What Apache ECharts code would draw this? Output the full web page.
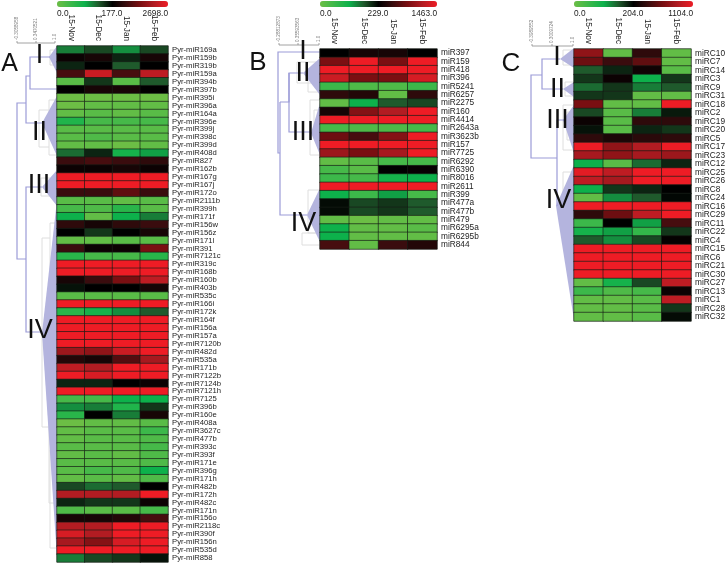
<!DOCTYPE html>
<html>
<head>
<meta charset="utf-8">
<title>miRNA heatmaps</title>
<script src="https://cdn.jsdelivr.net/npm/echarts@6/dist/echarts.min.js"></script>
<style>
    html,body{margin:0;padding:0;background:#fff;}
    #main{width:728px;height:564px;filter:blur(0.35px);}
</style>
</head>
<body>
<div id="main"></div>
<script>
    const months = ['15-Nov','15-Dec','15-Jan','15-Feb'];

    // values are positions on each colour bar: -10 = left end, 0 = black, 10 = right end
    const rowsA = ['Pyr-miR169a','Pyr-miR159b','Pyr-miR319b','Pyr-miR159a','Pyr-miR394b','Pyr-miR397b','Pyr-miR395i','Pyr-miR396a','Pyr-miR164a','Pyr-miR396e','Pyr-miR399j','Pyr-miR398c','Pyr-miR399d','Pyr-miR408d','Pyr-miR827','Pyr-miR162b','Pyr-miR167g','Pyr-miR167j','Pyr-miR172o','Pyr-miR2111b','Pyr-miR399h','Pyr-miR171f','Pyr-miR156w','Pyr-miR156z','Pyr-miR171l','Pyr-miR391','Pyr-miR7121c','Pyr-miR319c','Pyr-miR168b','Pyr-miR160b','Pyr-miR403b','Pyr-miR535c','Pyr-miR166i','Pyr-miR172k','Pyr-miR164f','Pyr-miR156a','Pyr-miR157a','Pyr-miR7120b','Pyr-miR482d','Pyr-miR535a','Pyr-miR171b','Pyr-miR7122b','Pyr-miR7124b','Pyr-miR7121h','Pyr-miR7125','Pyr-miR396b','Pyr-miR160e','Pyr-miR408a','Pyr-miR3627c','Pyr-miR477b','Pyr-miR393c','Pyr-miR393f','Pyr-miR171e','Pyr-miR396g','Pyr-miR171h','Pyr-miR482b','Pyr-miR172h','Pyr-miR482c','Pyr-miR171n','Pyr-miR156o','Pyr-miR2118c','Pyr-miR390f','Pyr-miR156n','Pyr-miR535d','Pyr-miR858'];
    const valuesA = [
        [-3.5,-2,-4,-2],[0.5,1,-1,1],[-1,0,-2.5,0],[3,8.5,3,8],[-9,-1.5,-9,-2.5],[0,1,1,0],
        [-10,-10,-10,-10],[-10,-9.5,-9.5,-9.5],[-9.5,-9,-9.5,-9],[-6,-8,-8,-8],[-9,-9,-9,-9],[-9,-8.5,-9,-9],[-9.5,-9.5,-10,-9.5],[-3,-1,-5.5,-4.5],
        [2.5,3,2.5,2],[0.5,0.5,1,0.5],[10,10,10,10],[10,10,10,10],[2.5,2.5,4,2.5],[-9,-9,-9.5,-9],[-8,-8.5,-6.5,-9],[-5,-9.5,-5,-3.5],
        [2,1,2,2.5],[0,-1.5,0,1],[-9.5,-9.5,-9,-9],[2.5,0.5,0.5,5],[-6.5,-8,-8,-6.5],[10,10,10,10],[10,10,10,10],[1,2.5,5,8],[-0.5,0,0,1],[-9,-9,-9,-9],[10,10,10,10],[-6.5,-5.5,-4,-2.5],
        [10,10,10,10],[10,10,10,10],[10,10,10,10],[10,10,10,10],[6.5,6,8.5,10],[1.5,1,3.5,7],[8,7.5,10,10],[10,9,10,10],[-1,-1,0,0.5],[10,10,10,10],[-8,-8,-5,-5],[-4,-3.5,-6,-1.5],[-6.5,0,-3.5,1],
        [-10,-9.5,-9.5,-9],[-9.5,-9,-9,-7.5],[-9.5,-9,-9,-8.5],[-9,-9,-9,-8],[-9.5,-9,-9.5,-8.5],[-9,-9,-9,-8.5],[-9,-8,-8.5,-5],[-9.5,-9,-9.5,-8.5],[-2,-3,-2.5,0],[7.5,7.5,7.5,10],[-1,-1.5,-1.5,0.5],[-8.5,-9,-9,-8],[1,1,1.5,3],[7.5,7.5,10,10],[9,7.5,10,10],[7,5.5,9,10],[10,10,10,10],[-3.5,-2,-1.5,-0.5]
    ];

    const rowsB = ['miR397','miR159','miR418','miR396','miR5241','miR6257','miR2275','miR160','miR4414','miR2643a','miR3623b','miR157','miR7725','miR6292','miR6390','miR8016','miR2611','miR399','miR477a','miR477b','miR479','miR6295a','miR6295b','miR844'];
    const valuesB = [
        [0,1,1,0],[5,10,5,10],[10,10,10,10],[8.5,5,5,9],[-7.5,-8.5,-8.5,-7.5],[2,1.5,-9.5,2],[-9.5,-5,-2.5,-2],[1,5.5,7.5,10],[10,10,10,10],[-8,-8.5,-8.5,-8],[4.5,3,5.5,10],[10,10,10,10],
        [6.5,5,7,10],[-9.5,-9,-8,-8],[-8,-9,0,0.3],[-7.5,-8,-5.5,-5],[10,10,10,10],[-5,-7.5,-4.5,-8],[-0.3,-2,-1.5,-2.5],[-0.3,-2,-1.5,-2.5],[-9.5,-10,-9.5,-9.5],[-5,-9.5,-9.5,-9],[-5,-9.5,-9.5,-9.5],[3,-9.5,2.5,1.5]
    ];

    const rowsC = ['miRC10','miRC7','miRC14','miRC3','miRC9','miRC31','miRC18','miRC2','miRC19','miRC20','miRC5','miRC17','miRC23','miRC12','miRC25','miRC26','miRC8','miRC24','miRC16','miRC29','miRC11','miRC22','miRC4','miRC15','miRC6','miRC21','miRC30','miRC27','miRC13','miRC1','miRC28','miRC32'];
    const valuesC = [
        [6,-9.5,2,-9.5],[4.5,2.5,4,-9.5],[-2.5,-1,0.7,-9],[-1.5,0.5,-5,-1.5],[-3,-1.5,-3.5,-2.5],[-1.5,-1.5,-9.5,-9.5],[5,-9.5,-9.5,10],[-2,-9,-3.5,-0.7],[0.5,-9,2,2],[-0.5,-9,-1,-1.5],[2,1.2,1.8,2],[10,6,7.5,10],[7,6,7,6.5],[-5,-9,-3,-1],[9.5,8,10,10],[8,7,10,10],
        [-5,-1.5,-1,0],[-9.5,-4,-2.5,-0.2],[10,10,10,10],[2,4.5,8,10],[-7.5,0,-4.5,3],[-5.5,-4.5,-7,-1.5],[-2.5,-4,-2,0.2],[10,10,10,10],[10,10,10,10],[10,10,10,10],[10,10,10,10],[-9.5,-5.5,-2,8],[-7.5,-8.5,-8,0.5],[-9.5,-9.5,-9,8],[-9.5,-9.5,-9,-1.5],[-9.5,-9.5,-9,-0.3]
    ];

    const legendTicksA = ['0.0','177.0','2698.0'];
    const legendTicksB = ['0.0','229.0','1463.0'];
    const legendTicksC = ['0.0','204.0','1104.0'];
    const treeTicksA = ['-0.3058958','0.3470521','1.0'];
    const treeTicksB = ['-0.28812873','0.35593563','1.0'];
    const treeTicksC = ['-0.3989552','0.3009724','1.0'];

    const heatColors = ['#6cbe45','#3cb84a','#0db14b','#1f5a2c','#000000','#3a0c0e','#7a0f12','#b21c22','#ee1c25'];
    const TREE = '#9c9cd8', FILL = '#b4b4de', THIN = '#dedede', INK = '#1c1c1c';

    // panel frames
    const panels = [
        {rows: rowsA, values: valuesA, ticks: legendTicksA, treeTicks: treeTicksA, left: 57, top: 46, width: 111, height: 516, midX: 112, scaleX: [17,36,55], scaleY: 43},
        {rows: rowsB, values: valuesB, ticks: legendTicksB, treeTicks: treeTicksB, left: 320, top: 49, width: 117, height: 200, midX: 378, scaleX: [279,298,319], scaleY: 45},
        {rows: rowsC, values: valuesC, ticks: legendTicksC, treeTicks: treeTicksC, left: 574, top: 49, width: 119, height: 272, midX: 633, scaleX: [532,552,573], scaleY: 46}
    ];

    function line(points, color, width) {
        return {type: 'polyline', silent: true, shape: {points: points}, style: {stroke: color, lineWidth: width || 1, fill: null}};
    }
    function branch(points) { return line(points, TREE, 1.2); }
    function thin(x, y1, y2, xEnd) { return line([[xEnd,y1],[x,y1],[x,y2],[xEnd,y2]], THIN, 1); }
    function wedge(apex, x, y1, y2) {
        return {type: 'polygon', silent: true, shape: {points: [apex,[x,y1],[x,y2]]}, style: {fill: FILL}};
    }
    function label(text, x, y, size, align, color, rotation) {
        return {type: 'text', silent: true, x: x, y: y, rotation: rotation || 0,
            style: {text: text, fontFamily: 'Liberation Sans', fontSize: size, fill: color || INK, align: align || 'left', verticalAlign: 'middle'}};
    }

    function buildOption() {
        const grid = [], xAxis = [], yAxis = [], visualMap = [], series = [], graphic = [];
        panels.forEach((p, i) => {
            grid.push({left: p.left, top: p.top, width: p.width, height: p.height, show: true, borderColor: '#cfcfcf', borderWidth: 1, backgroundColor: 'transparent'});
            xAxis.push({gridIndex: i, type: 'category', position: 'top', data: months,
                axisLine: {show: false}, axisTick: {show: false}, splitLine: {show: false},
                axisLabel: {interval: 0, rotate: 90, margin: 5, fontSize: 8.2, color: INK, fontFamily: 'Liberation Sans'}});
            yAxis.push({gridIndex: i, type: 'category', position: 'right', inverse: true, data: p.rows,
                axisLine: {show: false}, axisTick: {show: false}, splitLine: {show: false},
                axisLabel: {interval: 0, margin: 4, fontSize: i === 0 ? 7.7 : 8.3, color: INK, fontFamily: 'Liberation Sans'}});
            visualMap.push({type: 'continuous', seriesIndex: i, min: -10, max: 10, orient: 'horizontal',
                left: p.left, top: 1, itemWidth: 6, itemHeight: p.width, calculable: false, realtime: false,
                padding: 0, inRange: {color: heatColors}, text: null, showLabel: false});
            const cells = [];
            p.values.forEach((row, y) => row.forEach((v, x) => cells.push([x, y, v])));
            series.push({type: 'heatmap', xAxisIndex: i, yAxisIndex: i, data: cells, silent: true,
                itemStyle: {borderColor: 'rgba(20,26,20,0.8)', borderWidth: 0.8}, emphasis: {disabled: true}});

            // colour bar numbers
            graphic.push(label(p.ticks[0], p.left, 14, 8.3));
            graphic.push(label(p.ticks[1], p.midX, 14, 8.3, 'center'));
            graphic.push(label(p.ticks[2], p.left + p.width, 14, 8.3, 'right'));

            // dendrogram scale
            const sx = p.scaleX, sy = p.scaleY;
            graphic.push(line([[sx[0],sy-2],[sx[0],sy],[sx[2],sy],[sx[2],sy-2]], '#8c8c8c', 0.8));
            graphic.push(line([[sx[1],sy-2],[sx[1],sy]], '#8c8c8c', 0.8));
            sx.forEach((x, k) => {
                graphic.push(label(p.treeTicks[k], x, sy - 3, 4.6, 'left', '#777', Math.PI / 2));
            });
        });

        // thin inner branches, behind the wedges
        [[50,50,65,57],[39,110,147,49],[49,100,120,57],[49,135,155,57],[41,178,196,50],[50,223,270,57],[42,238,427,50],[49,350,503,57],[50,450,548,57],
         [297,62,83,320],[308,78,92,320],[310,100,155,320],[314,110,126,320],[308,190,233,320],[302,233,245,320],[314,207,225,320],
         [563,50,65,573],[565,82,96,573],[563,105,150,573],[567,112,140,573],[563,172,225,573],[568,190,210,573],[567,225,270,573]
        ].forEach(b => graphic.push(thin(b[0], b[1], b[2], b[3])));

        // wedges of the collapsed clusters
        graphic.push(wedge([49,57],57,46,73), wedge([42,123],57,96,156), wedge([42,187],57,170,206), wedge([42,333],57,200,558));
        graphic.push(wedge([303,73],320,58,95), wedge([311,133],320,103,155), wedge([307,215],320,188,242));
        graphic.push(wedge([560,59],574,48,68), wedge([563,89],574,82,97), wedge([563,120],574,105,153), wedge([556,206],574,165,320));

        // main branches
        graphic.push(branch([[26,103],[17,103],[17,259],[26,259]]));
        graphic.push(branch([[42,123],[26,123],[26,76],[30,76]]));
        graphic.push(branch([[50,57],[30,57],[30,89],[57,89]]));
        graphic.push(branch([[42,187],[26,187],[26,332],[42,332]]));

        graphic.push(branch([[320,52],[278,52],[278,153],[280,153]]));
        graphic.push(branch([[280,102],[280,215],[307,215]]));
        graphic.push(branch([[280,102],[289,102],[289,73],[303,73]]));
        graphic.push(branch([[289,73],[289,132],[311,132]]));

        graphic.push(branch([[542,75],[531,75],[531,158],[557,158]]));
        graphic.push(branch([[560,59],[542,59],[542,89],[563,89]]));
        graphic.push(branch([[565,120],[557,120],[557,206]]));

        // panel letters and cluster numerals
        graphic.push(label('A', 9.5, 64, 25, 'center', '#111'));
        graphic.push(label('B', 258, 63, 26, 'center', '#111'));
        graphic.push(label('C', 511, 64, 26, 'center', '#111'));
        [['I',39.5,56],['II',39.5,133],['III',39,186],['IV',40,331],
         ['I',303,52],['II',303,74],['III',303,133],['IV',303.5,224],
         ['I',557,58],['II',557.5,90],['III',557.5,121],['IV',558.5,201]
        ].forEach(n => graphic.push(label(n[0], n[1], n[2], 27, 'center', '#111')));

        return {animation: false, backgroundColor: '#fff', grid, xAxis, yAxis, visualMap, series, graphic};
    }

    const chart = echarts.init(document.getElementById('main'), null, {renderer: 'canvas'});
    chart.setOption(buildOption(), true);
</script>
</body>
</html>
